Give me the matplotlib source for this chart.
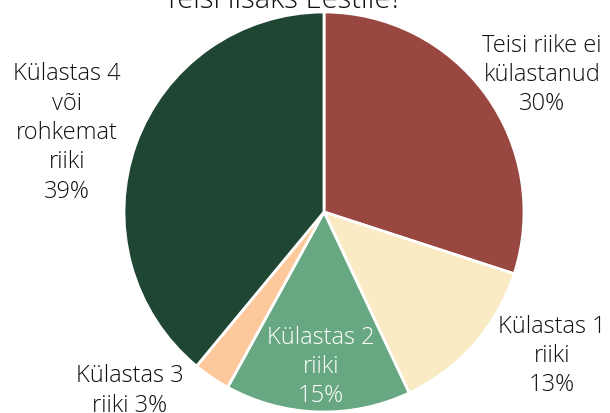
import matplotlib
matplotlib.use("Agg")
import matplotlib.pyplot as plt

labels = ["Teisi riike ei\nkülastanud", "Külastas 1\nriiki", "Külastas 2\nriiki", "Külastas 3\nriiki", "Külastas 4\nvõi\nrohkemat\nriiki"]
values = [30, 13, 15, 3, 39]
colors = ["#984840", "#faebc5", "#67a781", "#fdc89b", "#1f4533"]
title = "Mitu riiki olete külastanud\nTeisi lisaks Eestile?"

plt.rcParams['font.family'] = ['Open Sans', 'DejaVu Sans']

fig = plt.figure(figsize=(6.10, 4.14), dpi=100)
ax = fig.add_axes([0, 0, 1, 1])
wedges, _ = ax.pie(values, colors=colors, startangle=90, counterclock=False,
                   radius=1, center=(0, 0),
                   wedgeprops=dict(edgecolor="white", linewidth=2))
ax.set_aspect("equal")
ax.set_xlim(-324/200, (610-324)/200)
ax.set_ylim(-(414-213)/200, 213/200)
ax.axis("off")

label_pos = [(1.09, 0.69), (1.14, -0.715), (-0.015, -0.77), (-0.97, -0.89), (-1.285, 0.40)]
label_text = [
    "Teisi riike ei\nkülastanud\n30%",
    "Külastas 1\nriiki\n13%",
    "Külastas 2\nriiki\n15%",
    "Külastas 3\nriiki 3%",
    "Külastas 4\nvõi\nrohkemat\nriiki\n39%",
]
text_colors = ["#111111", "#111111", "white", "#111111", "#111111"]
for (x, y), t, c in zip(label_pos, label_text, text_colors):
    ax.text(x, y, t, ha="center", va="center", fontsize=17, color=c,
            linespacing=1.3, fontweight=300)

fig.text(283/610, 1 - 8/414, title, ha="center", va="baseline", fontsize=21,
         color="#111111", linespacing=1.1, fontweight=300)

fig.savefig("out.png", dpi=100)
